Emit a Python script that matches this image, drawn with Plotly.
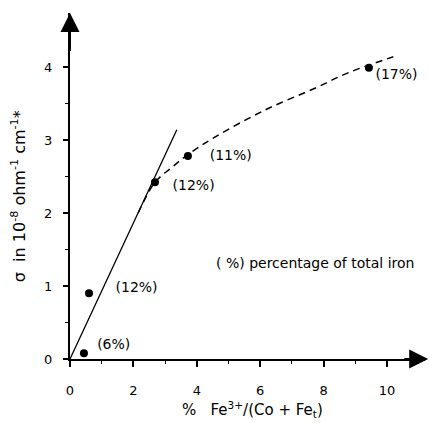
import plotly.graph_objects as go

# data points
pt_x = [0.44, 0.60, 2.68, 3.72, 9.43]
pt_y = [0.08, 0.90, 2.42, 2.78, 3.99]

# point labels
lab_text = ["(6%)", "(12%)", "(12%)", "(11%)", "(17%)"]
lab_x = [1.38, 2.10, 3.90, 5.07, 10.30]
lab_y = [0.19, 0.96, 2.36, 2.78, 3.88]

# solid straight line
lin_x = [0.0, 3.37]
lin_y = [0.0, 3.14]

# dashed curve
cur_x = [2.15, 2.68, 3.20, 3.72, 4.57, 6.15, 7.73, 8.77, 10.20]
cur_y = [2.00, 2.42, 2.62, 2.80, 3.04, 3.41, 3.71, 3.92, 4.14]

x_ticks = [0, 2, 4, 6, 8, 10]
y_ticks = [0, 1, 2, 3, 4]

FONT = "DejaVu Sans, Liberation Sans, Arial, sans-serif"

fig = go.Figure()
fig.add_trace(go.Scatter(x=lin_x, y=lin_y, mode="lines",
                         line=dict(color="black", width=1.3), cliponaxis=False))
fig.add_trace(go.Scatter(x=cur_x, y=cur_y, mode="lines",
                         line=dict(color="black", width=1.5, dash="7px,5px", shape="spline"),
                         cliponaxis=False))
fig.add_trace(go.Scatter(x=pt_x, y=pt_y, mode="markers",
                         marker=dict(color="black", size=8), cliponaxis=False))
fig.add_trace(go.Scatter(x=lab_x, y=lab_y, mode="text", text=lab_text,
                         textfont=dict(family=FONT, size=14, color="black"),
                         cliponaxis=False))

fig.add_annotation(x=7.73, y=1.31, text="( %) percentage of total iron", showarrow=False,
                   font=dict(family=FONT, size=14, color="black"))

# axis arrows
fig.add_annotation(x=0, y=4.74, ax=0, ay=4.2, xref="x", yref="y", axref="x", ayref="y",
                   showarrow=True, arrowhead=2, arrowsize=1.9, arrowwidth=2, arrowcolor="black", text="")
fig.add_annotation(x=11.3, y=0, ax=10.5, ay=0, xref="x", yref="y", axref="x", ayref="y",
                   showarrow=True, arrowhead=2, arrowsize=1.9, arrowwidth=2, arrowcolor="black", text="")

# titles
fig.add_annotation(xref="paper", yref="paper", x=-0.146, y=0.471, textangle=-90,
                   text="σ  in 10<sup>-8</sup> ohm<sup>-1</sup> cm<sup>-1</sup>*", showarrow=False,
                   font=dict(family=FONT, size=16, color="black"), xanchor="center", yanchor="middle")
fig.add_annotation(xref="paper", yref="paper", x=0.513, y=-0.147,
                   text="%   Fe<sup>3+</sup>/(Co + Fe<sub>t</sub>)", showarrow=False,
                   font=dict(family=FONT, size=15, color="black"), xanchor="center", yanchor="middle")

fig.update_layout(
    width=430, height=423,
    margin=dict(l=70, r=5, t=13, b=64),
    plot_bgcolor="white", paper_bgcolor="white",
    showlegend=False,
    xaxis=dict(range=[0, 11.2], showgrid=False, zeroline=False, showline=True,
               linecolor="black", linewidth=2, ticks="outside", ticklen=6, tickwidth=1.5,
               tickcolor="black", tickvals=x_ticks, ticktext=[str(v) for v in x_ticks],
               ticklabelstandoff=12,
               tickfont=dict(family=FONT, size=13, color="black"),
               minor=dict(dtick=1, ticks="outside", ticklen=3, tickwidth=1.2, tickcolor="black")),
    yaxis=dict(range=[0, 4.74], showgrid=False, zeroline=False, showline=True,
               linecolor="black", linewidth=2, ticks="outside", ticklen=5, tickwidth=1.5,
               tickcolor="black", tickvals=y_ticks, ticktext=[str(v) for v in y_ticks],
               ticklabelstandoff=8,
               tickfont=dict(family=FONT, size=13, color="black"),
               minor=dict(dtick=0.5, ticks="outside", ticklen=3, tickwidth=1.2, tickcolor="black")),
)

fig.write_html("out.html")
